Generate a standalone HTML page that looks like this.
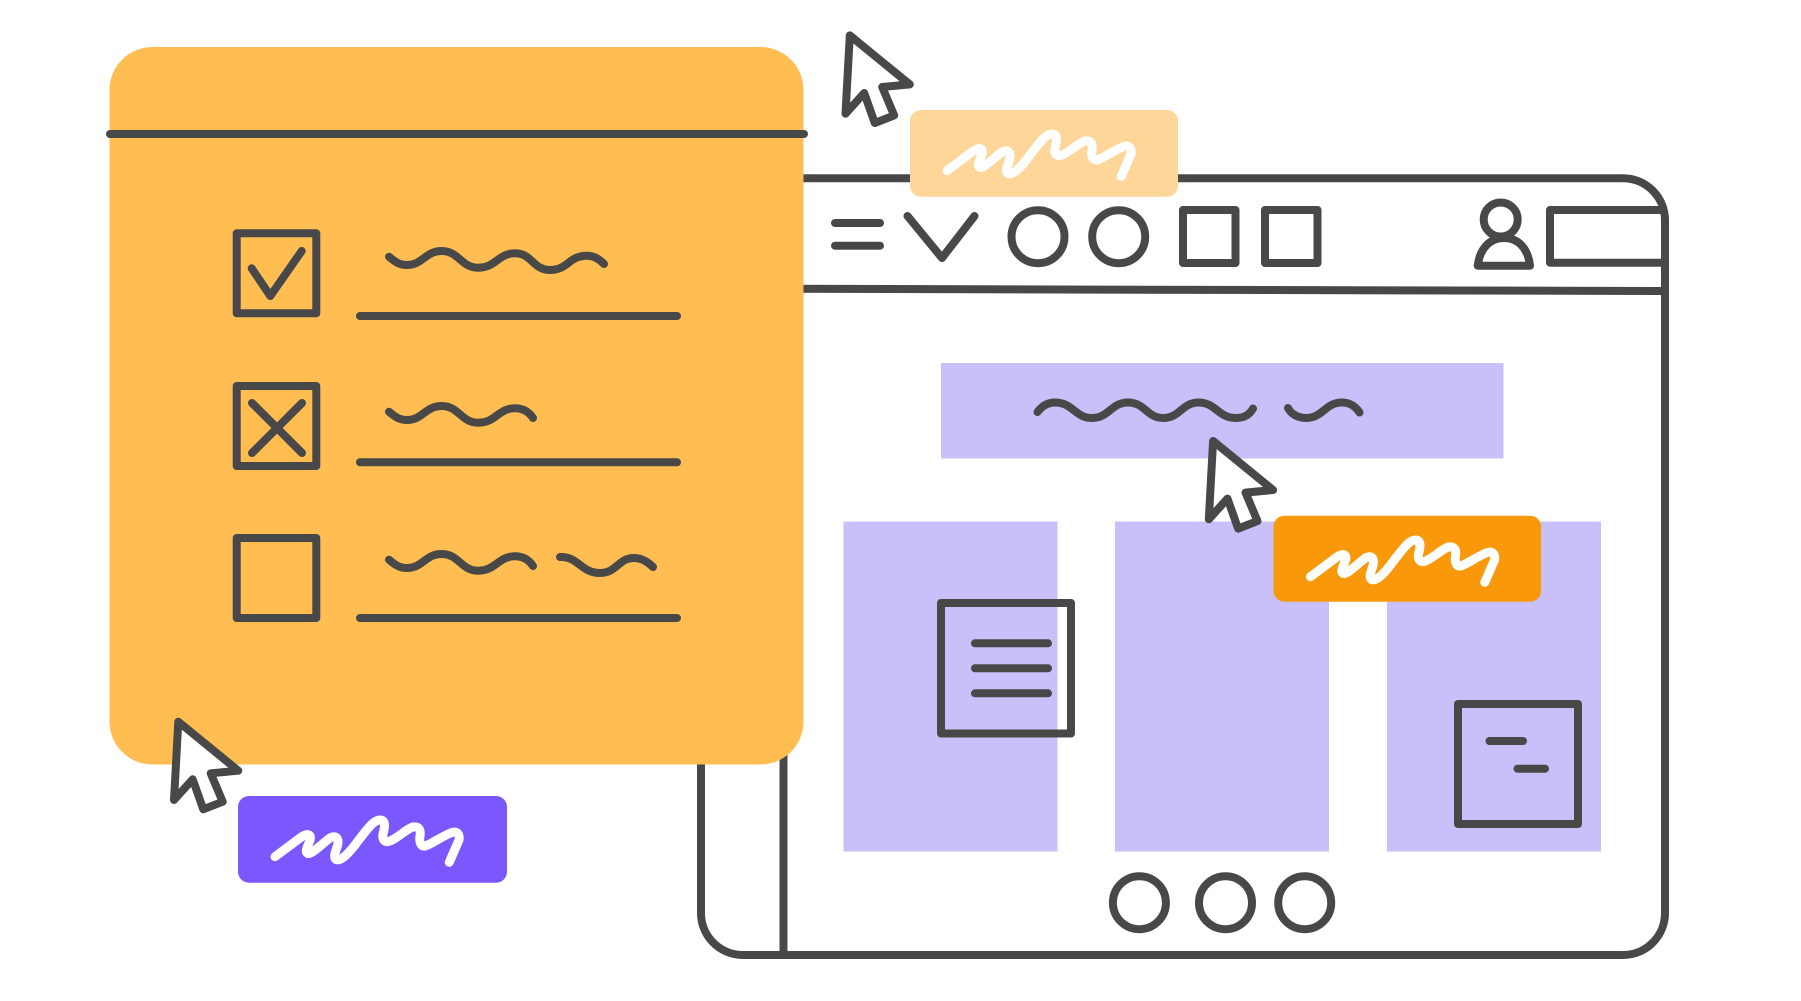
<!DOCTYPE html>
<html lang="en">
<head>
<meta charset="utf-8">
<title>Diagram</title>
<style>
html,body{margin:0;padding:0;background:#fff;width:1801px;height:1001px;overflow:hidden}
svg{display:block}
</style>
</head>
<body>
<svg xmlns="http://www.w3.org/2000/svg" xmlns:xlink="http://www.w3.org/1999/xlink" width="1801" height="1001" viewBox="0 0 1801 1001">
<defs>
<path id="sq" d="M37 60.7 L62 42 C68 37.5 74 37 72 44 C70 50 66 56 70 57.5 C74 58.5 86 46 92 42 C98 39 100 42 100 46 C100 52 94 60 98 63.5 C103 66 112 56 120 45 C128 35 135 24 142 24 C149 24 146 34 145 38 C144 44 147 47 152 45 C160 42 168 33 175 31 C181 30 183 34 182 40 C181 46 183 51 187 50 C192 49 206 39 214 36.5 C219 35 222 38 221 44 L211.3 66.3" fill="none" stroke="#fff" stroke-width="9" stroke-linecap="round" stroke-linejoin="round"/>
<path id="cur" d="M178.3 721.7 L238.3 770.7 L210.7 773.3 L222.7 801.7 L203.3 809.3 L192.7 779.3 L174 800 Z" fill="#fff" stroke="#484848" stroke-width="8" stroke-linejoin="round"/>
</defs>
<rect width="1801" height="1001" fill="#fff"/>

<!-- browser -->
<g fill="none" stroke="#484848" stroke-width="8" stroke-linecap="round" stroke-linejoin="round">
<rect x="701" y="178.3" width="964" height="776.7" rx="42" ry="42" fill="#fff"/>
<path d="M783.5 700V955" stroke-linecap="butt"/>
<path d="M790 288.8L1664 291" stroke-linecap="butt"/>
</g>

<!-- lavender blocks -->
<g fill="#C9BFF9">
<rect x="941" y="363" width="562.5" height="95.5"/>
<rect x="843.5" y="521.5" width="214" height="330"/>
<rect x="1115" y="521.5" width="214" height="330"/>
<rect x="1387" y="521.5" width="214" height="330"/>
</g>

<!-- nav and content outlines -->
<g fill="none" stroke="#484848" stroke-width="8" stroke-linecap="round" stroke-linejoin="round">
<path d="M835 223H880M835 245.7H880"/>
<path d="M907.5 216L942 258L974.5 216"/>
<circle cx="1038" cy="236.7" r="26.5"/>
<circle cx="1118.7" cy="236.7" r="26.5"/>
<rect x="1183" y="210" width="52.5" height="53"/>
<rect x="1265" y="210" width="52.5" height="53"/>
<circle cx="1500.7" cy="219.5" r="17"/>
<path d="M1477.7 265.7C1480 248 1490 238 1504 238C1518 238 1528 248 1530 265.7Z"/>
<path d="M1664 210H1550V262.7H1664" stroke-linecap="butt"/>
<rect x="941" y="603" width="130" height="130.5"/>
<path d="M975 643.3H1048M975 668.3H1048M975 693.3H1048"/>
<rect x="1458" y="704" width="120" height="120"/>
<path d="M1489.5 741H1523M1517.5 768.7H1545"/>
<circle cx="1139.4" cy="902.7" r="26.5"/>
<circle cx="1225.5" cy="902.7" r="26.5"/>
<circle cx="1304.7" cy="902.7" r="26.5"/>
<path d="M1037.5 412C1042 406 1048 402.5 1055 402.5C1073 402.5 1075 418 1092 418C1109 418 1111 402.5 1128 402.5C1145 402.5 1147 418 1163 418C1180 418 1182 402.5 1198.5 402.5C1216 402.5 1218 418 1236 418C1245 418 1250 414 1253 408.5"/>
<path d="M1288 408C1291 414 1298 418 1306 418C1323 418 1325 402.5 1342 402.5C1350 402.5 1356 407 1359.5 412.5"/>
</g>

<!-- orange card -->
<rect x="109.5" y="47" width="694" height="717.5" rx="43" ry="43" fill="#FFBD52"/>
<g fill="none" stroke="#484848" stroke-width="8" stroke-linecap="round" stroke-linejoin="round">
<path d="M110 134H804"/>
<rect x="236.7" y="233.3" width="79.6" height="80"/>
<rect x="236.7" y="386" width="79.6" height="80"/>
<rect x="236.7" y="538" width="79.6" height="80"/>
<path d="M251.7 268.3L270.3 296L301.7 251"/>
<path d="M252 403L302 453M302 403L252 453"/>
<path d="M360 316H677M360 462.3H677M360 618H677"/>
<path d="M389 256.7C394 261 399 265 406.7 265C423 265 425 251 441.7 251C459 251 461 267.7 478.3 267.7C496 267.7 498 253.3 515 253.3C532 253.3 533 270 550 270C568 270 569 255.7 586.7 255.7C594 255.7 599 259 604 264"/>
<path d="M389 411.7C394 416 399 420 406.7 420C423 420 425 406 441.7 406C459 406 461 422.7 478.3 422.7C496 422.7 498 408.3 515 408.3C523 408.3 529 412 533 418"/>
<path d="M389 559.7C394 564 399 568 406.7 568C423 568 425 554 441.7 554C459 554 461 570.7 478.3 570.7C496 570.7 498 556.3 515 556.3C523 556.3 529 560 533 566"/>
<path d="M560 557C578 556 581 573 600 573C617 573 618 558 634 558C643 558 649 563 653 567"/>
</g>

<!-- labels -->
<rect x="910" y="110" width="268" height="86.7" rx="11" ry="11" fill="#FFD699"/>
<use xlink:href="#sq" href="#sq" transform="translate(910 110)"/>
<rect x="238" y="796" width="269" height="86.7" rx="11" ry="11" fill="#7B57FF"/>
<use xlink:href="#sq" href="#sq" transform="translate(238 796)"/>

<!-- cursors -->
<use xlink:href="#cur" href="#cur"/>
<use xlink:href="#cur" href="#cur" transform="translate(671.5 -686.3)"/>
<use xlink:href="#cur" href="#cur" transform="translate(1034.8 -280.7)"/>

<rect x="1273.5" y="515.7" width="267.6" height="86" rx="11" ry="11" fill="#F9980B"/>
<use xlink:href="#sq" href="#sq" transform="translate(1273.5 516)"/>
</svg>
</body>
</html>
